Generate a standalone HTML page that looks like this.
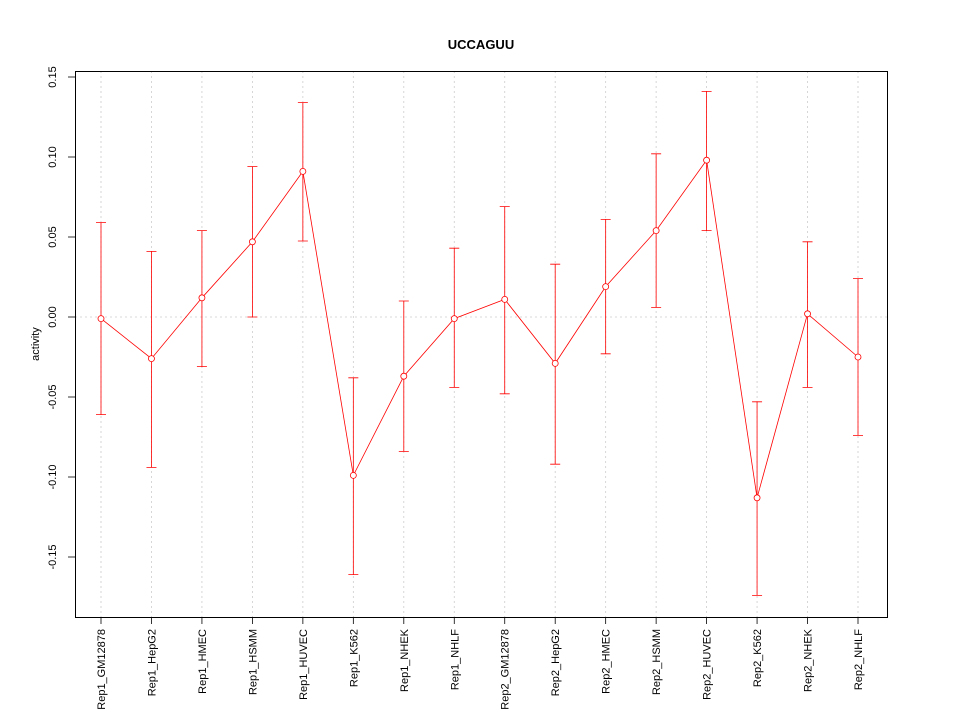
<!DOCTYPE html>
<html><head><meta charset="utf-8"><style>
body{margin:0;background:#fff;}
svg{display:block;font-family:"Liberation Sans",sans-serif;}
</style></head><body>
<svg id="chart" width="960" height="720">
<rect width="960" height="720" fill="#fff"/>
<text x="481" y="49" text-anchor="middle" font-size="13" font-weight="bold">UCCAGUU</text>
<text transform="translate(39,344) rotate(-90)" text-anchor="middle" font-size="11">activity</text>
<g id="grid"></g><g id="axes"></g><g id="marks"></g>
<rect x="75.5" y="71.5" width="812" height="546" fill="none" stroke="#000"/>
</svg>
<script>
const categories=["Rep1_GM12878","Rep1_HepG2","Rep1_HMEC","Rep1_HSMM","Rep1_HUVEC","Rep1_K562","Rep1_NHEK","Rep1_NHLF","Rep2_GM12878","Rep2_HepG2","Rep2_HMEC","Rep2_HSMM","Rep2_HUVEC","Rep2_K562","Rep2_NHEK","Rep2_NHLF"];
const values=[-0.001,-0.026,0.012,0.047,0.091,-0.099,-0.037,-0.001,0.011,-0.029,0.019,0.054,0.098,-0.113,0.002,-0.025];
const upper=[0.059,0.041,0.054,0.094,0.134,-0.038,0.010,0.043,0.069,0.033,0.061,0.102,0.141,-0.053,0.047,0.024];
const lower=[-0.061,-0.094,-0.031,0.000,0.0475,-0.161,-0.084,-0.044,-0.048,-0.092,-0.023,0.006,0.054,-0.174,-0.044,-0.074];
const yTicks=[-0.15,-0.10,-0.05,0.00,0.05,0.10,0.15];
const yTickLabels=["-0.15","-0.10","-0.05","0.00","0.05","0.10","0.15"];
const NS="http://www.w3.org/2000/svg";
const yS=v=>317-v*1600;
const xS=i=>101+i*(858-101)/(categories.length-1);
function mk(tag,attrs,parent,text){const e=document.createElementNS(NS,tag);for(const k in attrs)e.setAttribute(k,attrs[k]);if(text!==undefined)e.textContent=text;document.getElementById(parent).appendChild(e);return e;}
categories.forEach((c,i)=>{
 const g=mk("line",{x1:xS(i),x2:xS(i),y1:71,y2:617,stroke:"#ccc","stroke-width":0.8,"stroke-dasharray":"2,3"},"grid");
 
 
 const t=mk("line",{x1:xS(i),x2:xS(i),y1:617,y2:624,stroke:"#000","stroke-width":0.8},"axes");
 
 
 const l=mk("text",{transform:`translate(${xS(i)+4},629) rotate(-90)`,"text-anchor":"end","font-size":"11"},"axes",c);
 
 
});
const z=mk("line",{x1:75,x2:887,y1:yS(0),y2:yS(0),stroke:"#ccc","stroke-width":0.8,"stroke-dasharray":"2,3"},"grid");


yTicks.forEach((v,i)=>{
 const t=mk("line",{x1:68,x2:75,y1:yS(v),y2:yS(v),stroke:"#000","stroke-width":0.8},"axes");
 
 
 const l=mk("text",{transform:`translate(56,${yS(v)}) rotate(-90)`,"text-anchor":"middle","font-size":"11"},"axes",yTickLabels[i]);
 
 
});
const line=mk("polyline",{points:values.map((v,i)=>xS(i)+","+yS(v)).join(" "),fill:"none",stroke:"#f00","stroke-width":0.8},"marks");


values.forEach((v,i)=>{
 const x=xS(i);
 const b=mk("path",{d:`M${x},${yS(upper[i])}V${yS(lower[i])}M${x-5},${yS(upper[i])}H${x+5}M${x-5},${yS(lower[i])}H${x+5}`,stroke:"#f00","stroke-width":0.8,fill:"none"},"marks");
 
 
 const p=mk("circle",{cx:x,cy:yS(v),r:3,fill:"#fff",stroke:"#f00","stroke-width":0.8},"marks");
 
 
});
</script>
</body></html>
